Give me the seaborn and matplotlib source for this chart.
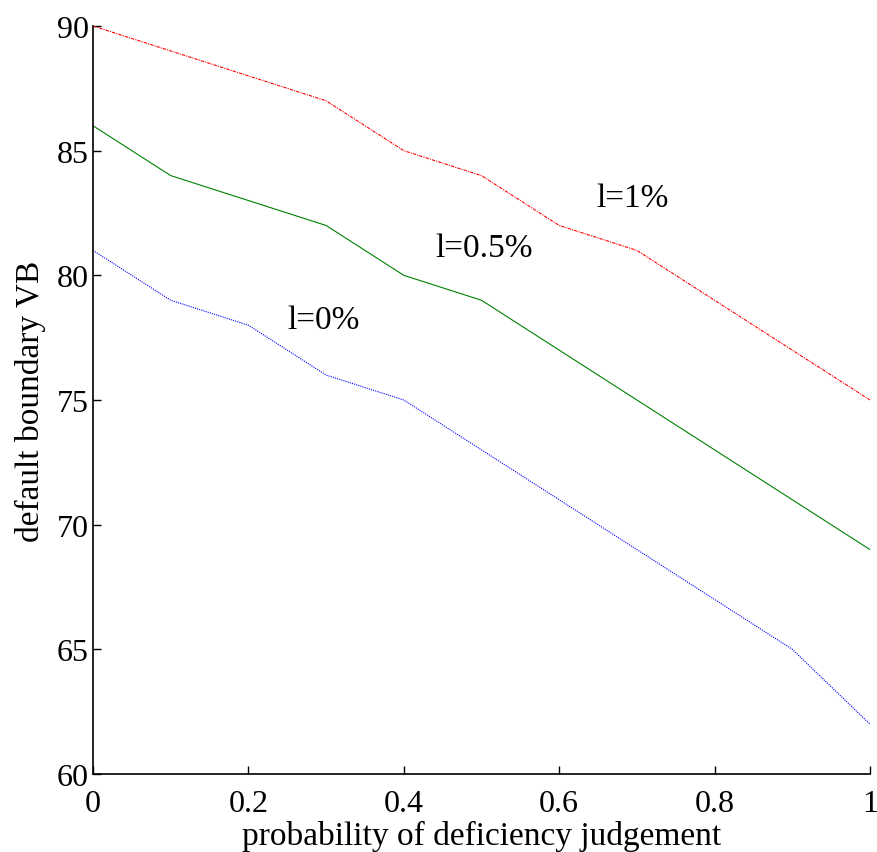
import matplotlib
matplotlib.use("Agg")
import matplotlib.pyplot as plt
import seaborn as sns
import pandas as pd

x_vals = [0, 0.1, 0.2, 0.3, 0.4, 0.5, 0.6, 0.7, 0.8, 0.9, 1.0]
vb_l1 = [90, 89, 88, 87, 85, 84, 82, 81, 79, 77, 75]
vb_l05 = [86, 84, 83, 82, 80, 79, 77, 75, 73, 71, 69]
vb_l0 = [81, 79, 78, 76, 75, 73, 71, 69, 67, 65, 62]
series_labels = ["l=1%", "l=0.5%", "l=0%"]
x_ticks = [0, 0.2, 0.4, 0.6, 0.8, 1]
x_ticklabels = ["0", "0.2", "0.4", "0.6", "0.8", "1"]
y_ticks = [60, 65, 70, 75, 80, 85, 90]

sns.set_style("ticks")
plt.rcParams['font.family'] = ['Liberation Serif', 'DejaVu Serif']
plt.rcParams['text.color'] = 'black'
plt.rcParams['axes.labelcolor'] = 'black'
plt.rcParams['xtick.color'] = 'black'
plt.rcParams['ytick.color'] = 'black'

fig = plt.figure(figsize=(8.78, 8.53), dpi=100)
ax = fig.add_axes([93/878, 78/853, 777/878, 748/853])

styles = [("red", (0, (3, 1, 1, 1))), ("green", "-"), ("blue", (0, (1, 1)))]
for vals, (c, ls) in zip([vb_l1, vb_l05, vb_l0], styles):
    df = pd.DataFrame({"x": x_vals, "y": vals})
    sns.lineplot(data=df, x="x", y="y", ax=ax, color=c, linewidth=0.8, linestyle=ls)

ax.text(0.694, 83.1, series_labels[0], fontsize=24, ha="center", va="center", color="black")
ax.text(0.503, 81.1, series_labels[1], fontsize=24, ha="center", va="center", color="black")
ax.text(0.297, 78.2, series_labels[2], fontsize=24, ha="center", va="center", color="black")

ax.set_xlim(0, 1)
ax.set_ylim(60, 90)
ax.set_xticks(x_ticks)
ax.set_xticklabels(x_ticklabels)
ax.set_yticks(y_ticks)
ax.tick_params(direction="in", labelsize=23, length=6, width=1, colors="black")
ax.tick_params(axis="x", pad=11)
ax.tick_params(axis="y", pad=3)
ax.set_xlabel("probability of deficiency judgement", fontsize=24, labelpad=1, color="black")
ax.set_ylabel("default boundary VB", fontsize=24, labelpad=8, color="black")
for s in ["top", "right"]:
    ax.spines[s].set_visible(False)
for s in ["left", "bottom"]:
    ax.spines[s].set_linewidth(1.2)
    ax.spines[s].set_color("black")

fig.savefig("out.png", dpi=100)
